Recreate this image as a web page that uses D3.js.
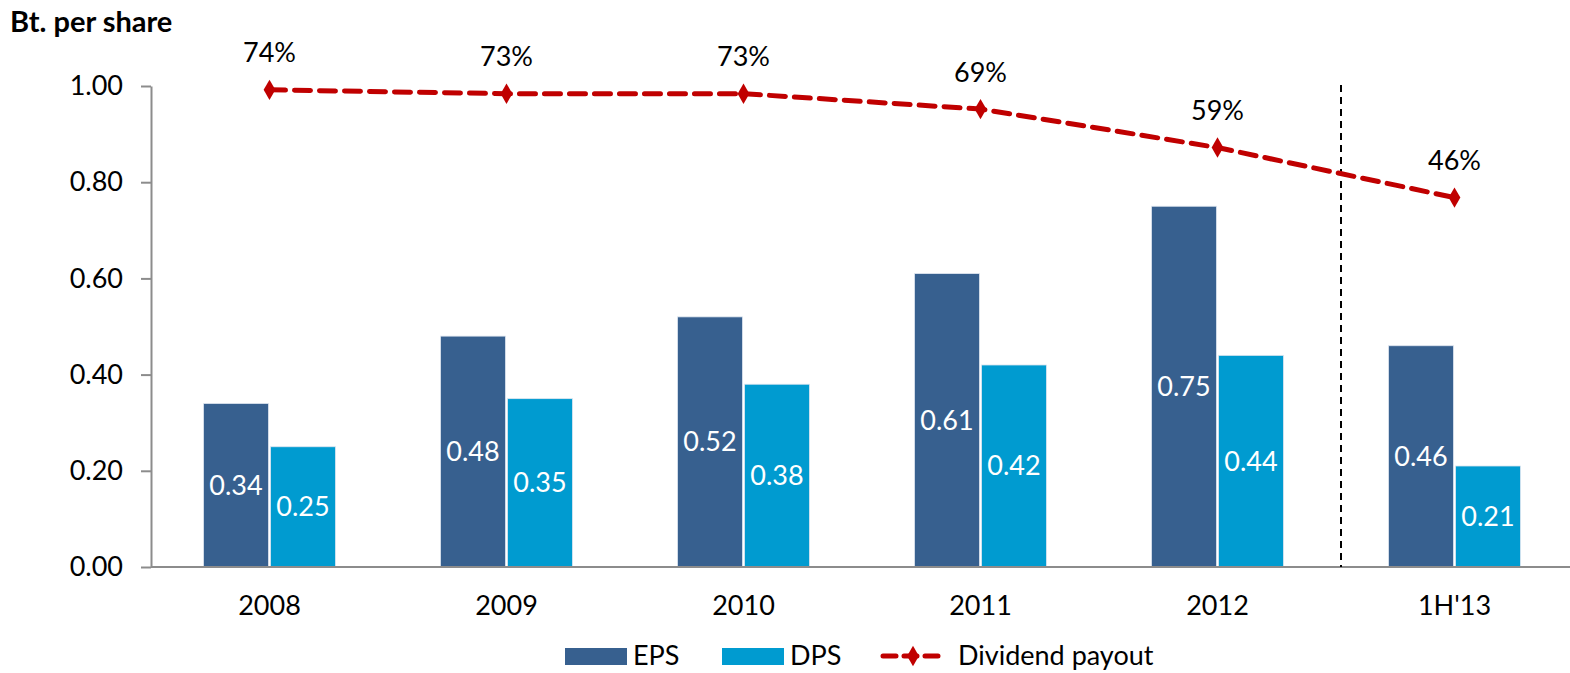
<!DOCTYPE html>
<html>
<head>
<meta charset="utf-8">
<script src="https://cdn.jsdelivr.net/npm/d3@7"></script>
<style>
  html, body { margin: 0; padding: 0; background: #fff; }
  svg text { font-family: Lato, "Open Sans", sans-serif; }
</style>
</head>
<body>
<svg id="chart" width="1570" height="673"></svg>
<script>
// Per-share figures (Baht) and payout ratio by period
const categories = ["2008", "2009", "2010", "2011", "2012", "1H'13"];
const eps = [0.34, 0.48, 0.52, 0.61, 0.75, 0.46];
const dps = [0.25, 0.35, 0.38, 0.42, 0.44, 0.21];
const payout = [0.74, 0.73, 0.73, 0.69, 0.59, 0.46];
const yTicks = [0, 0.2, 0.4, 0.6, 0.8, 1.0];
const seriesNames = ["EPS", "DPS", "Dividend payout"];

const colors = { EPS: "#37608F", DPS: "#009BD0", payout: "#C00000" };
const fs = 27;

const svg = d3.select("#chart");
const plotLeft = 151, plotBottom = 567, plotTop = 86;
const step = 237;

const x = d3.scaleBand().domain(categories).range([plotLeft, plotLeft + step * categories.length]).padding(0);
const y = d3.scaleLinear().domain([0, 1]).range([plotBottom, plotTop]);
// secondary scale for payout ratio (axis hidden)
const y2 = d3.scaleLinear().domain([-0.5, 0.75]).range([plotBottom, plotTop]);
const groupW = 134;
const xs = d3.scaleBand().domain(["EPS", "DPS"]).range([0, groupW]).padding(0);

// y axis
const yAxis = d3.axisLeft(y).tickValues(yTicks).tickFormat(d3.format(".2f")).tickSize(10).tickSizeOuter(0);
const gy = svg.append("g").attr("transform", `translate(${plotLeft},0)`).call(yAxis);
gy.select(".domain").attr("stroke", "#8c8c8c").attr("stroke-width", 2);
gy.selectAll(".tick line").attr("stroke", "#8c8c8c").attr("stroke-width", 2);
gy.selectAll(".tick text").attr("x", -28).attr("font-size", fs).attr("fill", "#000");

// title
svg.append("text").attr("x", 10).attr("y", 32).attr("font-size", 29).attr("font-weight", 700)
  .attr("fill", "#000").text("Bt. per share");

// bars
const rows = categories.map((c, i) => ({ c, EPS: eps[i], DPS: dps[i] }));
const groups = svg.append("g").selectAll("g").data(rows).join("g")
  .attr("transform", d => `translate(${x(d.c) + (x.bandwidth() - groupW) / 2},0)`);

groups.selectAll("rect").data(d => ["EPS", "DPS"].map(k => ({ k, v: d[k], c: d.c }))).join("rect")
  .attr("x", d => xs(d.k) + 1)
  .attr("width", xs.bandwidth() - 2)
  .attr("y", d => y(d.v))
  .attr("height", d => plotBottom - y(d.v))
  .attr("fill", d => colors[d.k])
  .attr("stroke", "#dfe6f0").attr("stroke-width", 0.8);

// value labels centred inside bars
groups.selectAll("text.val").data(d => ["EPS", "DPS"].map(k => ({ k, v: d[k], c: d.c }))).join("text")
  .attr("class", "val")
  .attr("x", d => xs(d.k) + xs.bandwidth() / 2)
  .attr("y", d => (y(d.v) + plotBottom) / 2)
  .attr("dy", "0.35em")
  .attr("text-anchor", "middle")
  .attr("font-size", fs).attr("fill", "#fff")
  .text(d => d3.format(".2f")(d.v));

// x axis
svg.append("line").attr("x1", plotLeft).attr("x2", 1570).attr("y1", plotBottom).attr("y2", plotBottom)
  .attr("stroke", "#8c8c8c").attr("stroke-width", 2);
svg.append("g").selectAll("text").data(categories).join("text")
  .attr("x", d => x(d) + x.bandwidth() / 2).attr("y", 606).attr("dy", "0.35em")
  .attr("text-anchor", "middle").attr("font-size", fs).attr("fill", "#000").text(d => d);

// divider between full years and half-year
const divX = x(categories[5]) + 5;
svg.append("line").attr("x1", divX).attr("x2", divX).attr("y1", 85).attr("y2", plotBottom)
  .attr("stroke", "#000").attr("stroke-width", 2).attr("stroke-dasharray", "7,5");

// payout line
const cx = c => x(c) + x.bandwidth() / 2;
const line = d3.line().x((d, i) => cx(categories[i])).y(d => y2(d));
svg.append("path").datum(payout).attr("d", line).attr("fill", "none")
  .attr("stroke", colors.payout).attr("stroke-width", 5)
  .attr("stroke-dasharray", "16,9").attr("stroke-linecap", "round");

const diamond = d3.symbol().type(d3.symbolDiamond).size(120);
svg.append("g").selectAll("path").data(payout).join("path")
  .attr("d", diamond)
  .attr("transform", (d, i) => `translate(${cx(categories[i])},${y2(d)})`)
  .attr("fill", colors.payout);

svg.append("g").selectAll("text").data(payout).join("text")
  .attr("x", (d, i) => cx(categories[i])).attr("y", d => y2(d) - 37).attr("dy", "0.35em")
  .attr("text-anchor", "middle").attr("font-size", fs).attr("fill", "#000")
  .text(d => d3.format(".0%")(d));

// legend
const lg = svg.append("g");
const legY = 656;
lg.append("rect").attr("x", 565).attr("y", legY - 8).attr("width", 62).attr("height", 17).attr("fill", colors.EPS);
lg.append("text").attr("x", 633).attr("y", legY).attr("dy", "0.35em").attr("font-size", fs).text(seriesNames[0]);
lg.append("rect").attr("x", 722).attr("y", legY - 8).attr("width", 62).attr("height", 17).attr("fill", colors.DPS);
lg.append("text").attr("x", 790).attr("y", legY).attr("dy", "0.35em").attr("font-size", fs).text(seriesNames[1]);
lg.append("line").attr("x1", 883).attr("x2", 943).attr("y1", legY).attr("y2", legY)
  .attr("stroke", colors.payout).attr("stroke-width", 5).attr("stroke-dasharray", "13,8")
  .attr("stroke-linecap", "round");
lg.append("path").attr("d", diamond).attr("transform", `translate(913,${legY})`).attr("fill", colors.payout);
lg.append("text").attr("x", 958).attr("y", legY).attr("dy", "0.35em").attr("font-size", fs).text(seriesNames[2]);
</script>
</body>
</html>
